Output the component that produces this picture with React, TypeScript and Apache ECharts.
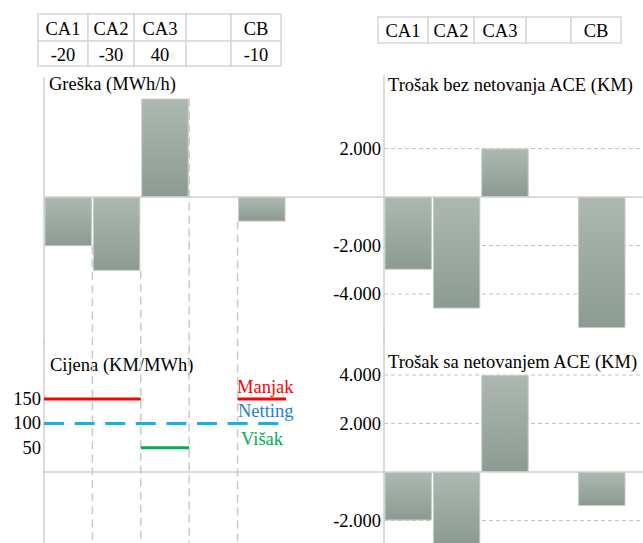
import React, { useEffect, useRef } from 'react';
import * as echarts from 'echarts';

// ---------------- data ----------------
const categories = ['CA1', 'CA2', 'CA3', '', 'CB'];
const greska = [-20, -30, 40, null, -10]; // MWh/h
const cijenaManjak = [150, 150, null, null, 150]; // KM/MWh
const cijenaNetting = [100, 100, 100, 100, 100];
const cijenaVisak = [null, null, 50, null, null];
const trosakBez = [-3000, -4600, 2000, null, -5400]; // KM
const trosakSa = [-2000, -3000, 4000, null, -1400]; // KM
const cijenaTicks = [50, 100, 150];
const trosakBezTicks = [2000, -2000, -4000];
const trosakSaTicks = [4000, 2000, -2000];
const legendLabels = ['Manjak', 'Netting', 'Višak'];
const titles = ['Greška (MWh/h)', 'Cijena (KM/MWh)', 'Trošak bez netovanja ACE (KM)', 'Trošak sa netovanjem ACE (KM)'];

// ---------------- layout ----------------
const W = 643;
const H = 543;
const L0 = 44;
const R0 = 384;
const SLOT = 48.4;
const FONT = 'Liberation Serif';
const FS = 18.5;
const AXIS_COLOR = '#cfcfcf';
const COL_W = [50, 46, 52, 45, 50];

type Panel = { x: number; right: number; zeroY: number; ppu: number; min: number; max: number; interval?: number; ticks?: number[] };
const panels: Panel[] = [
  { x: L0, right: R0, zeroY: 197, ppu: 2.46, min: -60, max: 48.6 },
  { x: L0, right: R0, zeroY: 472, ppu: 24.3 / 50, min: -150, max: 270, interval: 50, ticks: cijenaTicks },
  { x: R0, right: W, zeroY: 197, ppu: 48.5 / 2000, min: -6000, max: 5000, interval: 2000, ticks: trosakBezTicks },
  { x: R0, right: W, zeroY: 472, ppu: 48.5 / 2000, min: -4000, max: 5850, interval: 2000, ticks: trosakSaTicks },
];

function fmtNum(v: number): string {
  const s = Math.abs(v).toString().replace(/\B(?=(\d{3})+(?!\d))/g, '.');
  return (v < 0 ? '-' : '') + s;
}

function runs(values: (number | null)[]): number[][] {
  const out: number[][] = [];
  let i = 0;
  while (i < values.length) {
    const v = values[i];
    if (v == null) { i++; continue; }
    let j = i;
    while (j + 1 < values.length && values[j + 1] === v) j++;
    out.push([i, v, j]);
    i = j + 1;
  }
  return out;
}

function textEl(text: string, x: number, y: number, fill: string, align = 'left') {
  return {
    type: 'text',
    silent: true,
    style: {
      text, x, y, fill,
      font: `${FS}px ${FONT}`,
      fontSize: FS, fontFamily: FONT,
      align, verticalAlign: 'middle',
      textAlign: align, textVerticalAlign: 'middle',
    },
  };
}

function tableEls(x0: number, y0: number, rowH: number[], rows: string[][]) {
  const els: any[] = [];
  let y = y0;
  rows.forEach((row, r) => {
    let x = x0;
    row.forEach((cell, c) => {
      const w = COL_W[c];
      els.push({
        type: 'rect', silent: true,
        shape: { x, y, width: w, height: rowH[r] },
        style: { fill: '#ffffff', stroke: '#d6d6d6', lineWidth: 1.5 },
      });
      if (cell) els.push(textEl(cell, x + w / 2, y + rowH[r] / 2 + 1, '#000', 'center'));
      x += w;
    });
    y += rowH[r];
  });
  return els;
}

const barColor = () =>
  new echarts.graphic.LinearGradient(0, 0, 0, 1, [
    { offset: 0, color: '#adb8b0' },
    { offset: 1, color: '#8c9b91' },
  ]);

export default function App() {
  const ref = useRef<HTMLDivElement>(null);

  useEffect(() => {
    if (!ref.current) return;
    const chart = echarts.init(ref.current, undefined, { renderer: 'svg' });

    const grid: any[] = [];
    const xAxis: any[] = [];
    const yAxis: any[] = [];
    panels.forEach((p, i) => {
      const top = p.zeroY - p.max * p.ppu;
      const height = (p.max - p.min) * p.ppu;
      grid.push({ left: p.x, top, width: p.right - p.x, height, containLabel: false, outerBoundsMode: 'none' });
      grid.push({ left: p.x, top, width: SLOT * categories.length, height, containLabel: false, outerBoundsMode: 'none' });
      const fi = 2 * i;
      const bi = 2 * i + 1;
      xAxis.push({
        type: 'category', gridIndex: fi, data: categories, boundaryGap: true,
        axisLine: { show: true, onZero: true, lineStyle: { color: AXIS_COLOR, width: 1.5 } },
        axisTick: { show: false }, axisLabel: { show: false }, splitLine: { show: false },
      });
      xAxis.push({ type: 'category', gridIndex: bi, data: categories, boundaryGap: true, show: false });
      const ticks = p.ticks;
      yAxis.push({
        type: 'value', gridIndex: fi, min: p.min, max: p.max,
        ...(p.interval ? { interval: p.interval } : {}),
        axisLine: { show: true, onZero: false, lineStyle: { color: AXIS_COLOR, width: 1.5 } },
        axisTick: { show: false }, splitLine: { show: false },
        axisLabel: {
          show: !!ticks, margin: 3, fontSize: FS, fontFamily: FONT, color: '#000',
          formatter: (v: number) => (ticks && ticks.includes(v) ? fmtNum(v) : ''),
        },
      });
      yAxis.push({ type: 'value', gridIndex: bi, min: p.min, max: p.max, show: false });
    });

    const barSeries = (idx: number, data: (number | null)[]) => ({
      type: 'bar', xAxisIndex: idx, yAxisIndex: idx, data, z: 3, silent: true,
      barCategoryGap: '2%',
      itemStyle: { color: barColor(), borderColor: '#c6cbc8', borderWidth: 1 },
    });

    const gridLineSeries = (idx: number, ticks: number[]) => ({
      type: 'custom', xAxisIndex: idx, yAxisIndex: idx, z: 1, silent: true,
      data: ticks.map((v) => [0, v]),
      encode: { x: 0, y: 1 },
      renderItem: (params: any, api: any) => {
        const y = api.coord([0, api.value(1)])[1];
        const cs = params.coordSys;
        return {
          type: 'line',
          shape: { x1: cs.x, y1: y, x2: cs.x + cs.width, y2: y },
          style: { stroke: '#c2c2c2', lineWidth: 1, lineDash: [4, 3] },
        };
      },
    });

    // dashed drop lines at the category boundaries, starting at the end of the bar on their left
    const dropData = categories.slice(1).map((_, k) => [k + 1, greska[k] ?? greska[k + 1] ?? 0]);
    const dropSeries = {
      type: 'custom', xAxisIndex: 1, yAxisIndex: 1, z: 1, silent: true, clip: false,
      data: dropData, encode: { x: 0, y: 1 },
      renderItem: (params: any, api: any) => {
        const k = api.value(0);
        const x = (api.coord([k - 1, 0])[0] + api.coord([k, 0])[0]) / 2;
        const y1 = api.coord([k, api.value(1)])[1];
        return {
          type: 'line',
          shape: { x1: x, y1, x2: x, y2: api.getHeight() },
          style: { stroke: '#c9c9c9', lineWidth: 1.5, lineDash: [8, 5] },
        };
      },
    };

    const priceSeries = (values: (number | null)[], color: string, dash?: number[]) => ({
      type: 'custom', xAxisIndex: 3, yAxisIndex: 3, z: 4, silent: true, clip: false,
      data: runs(values), encode: { x: 0, y: 1 },
      renderItem: (params: any, api: any) => {
        const s = api.value(0);
        const v = api.value(1);
        const e = api.value(2);
        const band = api.coord([1, 0])[0] - api.coord([0, 0])[0];
        const y = api.coord([s, v])[1];
        return {
          type: 'line',
          shape: { x1: api.coord([s, v])[0] - band / 2, y1: y, x2: api.coord([e, v])[0] + band / 2, y2: y },
          style: { stroke: color, lineWidth: 3, lineDash: dash || null, lineCap: 'butt' },
        };
      },
    });

    const graphic: any[] = [
      ...tableEls(38, 14, [27, 25], [categories, greska.map((v) => (v == null ? '' : String(v)))]),
      ...tableEls(378, 17, [26], [categories]),
      textEl(titles[0], 49, 84, '#000'),
      textEl(titles[1], 50, 365, '#000'),
      textEl(titles[2], 388, 85, '#000'),
      textEl(titles[3], 388, 362, '#000'),
      textEl(legendLabels[0], 237, 386.5, '#ff0000'),
      textEl(legendLabels[1], 238, 410.5, '#1e7fd2'),
      textEl(legendLabels[2], 241, 439, '#00b050'),
    ];

    chart.setOption({
      animation: false,
      backgroundColor: '#ffffff',
      textStyle: { fontFamily: FONT },
      grid, xAxis, yAxis,
      graphic,
      series: [
        dropSeries,
        barSeries(1, greska),
        priceSeries(cijenaNetting, '#14b0ee', [20, 10.6]),
        priceSeries(cijenaManjak, '#ff0000'),
        priceSeries(cijenaVisak, '#00b050'),
        gridLineSeries(4, trosakBezTicks),
        barSeries(5, trosakBez),
        gridLineSeries(6, trosakSaTicks),
        barSeries(7, trosakSa),
      ],
    });

    return () => chart.dispose();
  }, []);

  return (
    <div
      ref={ref}
      style={{ position: 'fixed', left: 0, top: 0, width: W, height: H, background: '#fff' }}
    />
  );
}
